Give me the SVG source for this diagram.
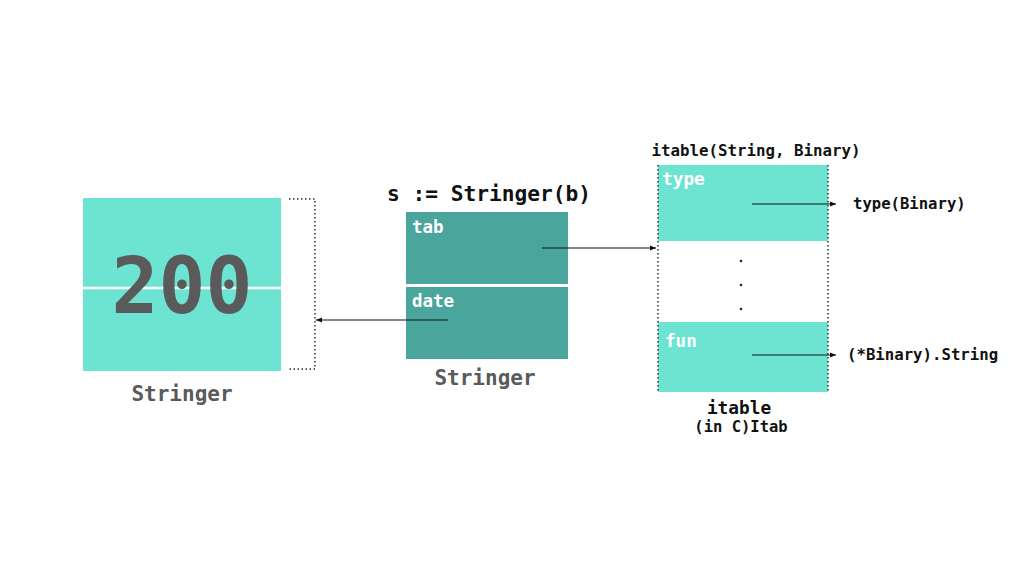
<svg xmlns="http://www.w3.org/2000/svg" width="1024" height="576" viewBox="0 0 1024 576">
<style>
.m{font-family:"DejaVu Sans Mono","Liberation Mono",monospace;font-weight:bold}
.lt{fill:#6ce4d1}
.dk{fill:#4aa69c}
.w{fill:#ffffff}
.g{fill:#5a5a5a}
.k{fill:#111111}
.dot{fill:none;stroke:#333;stroke-width:1.5;stroke-dasharray:1.5 2.5}
.ln{fill:none;stroke:#111;stroke-width:1.2}
</style>
<defs>
<marker id="ah" viewBox="0 0 10 10" refX="10" refY="5" markerWidth="6" markerHeight="6" orient="auto-start-reverse" markerUnits="userSpaceOnUse">
<path d="M0,1 L10,5 L0,9 z" fill="#111"/>
</marker>
</defs>
<rect width="1024" height="576" fill="#ffffff"/>
<g id="value">
<rect class="lt" x="83" y="198" width="198" height="173"/>
<line x1="83" y1="288" x2="281" y2="288" stroke="#fff" stroke-width="2.5"/>
<text class="m g" x="182" y="313" font-size="78" text-anchor="middle">200</text>
<text class="m g" x="182" y="401" font-size="21" text-anchor="middle">Stringer</text>
</g>
<g id="bracket">
<path class="dot" d="M289,199 H315 V369 H289"/>
</g>
<g id="stringer">
<text class="m k" x="489" y="201" font-size="21.2" text-anchor="middle">s := Stringer(b)</text>
<rect class="dk" x="406" y="212" width="162" height="72"/>
<rect class="dk" x="406" y="287" width="162" height="72"/>
<text class="m w" x="412" y="233" font-size="17.5">tab</text>
<text class="m w" x="412" y="307" font-size="17.5">date</text>
<text class="m g" x="485" y="385" font-size="21" text-anchor="middle">Stringer</text>
</g>
<g id="itable">
<text class="m k" x="756" y="156" font-size="15.8" text-anchor="middle">itable(String, Binary)</text>
<rect class="lt" x="658" y="165" width="170" height="76"/>
<rect class="lt" x="658" y="322" width="170" height="70"/>
<line class="dot" x1="658" y1="165" x2="658" y2="392"/>
<line class="dot" x1="828" y1="165" x2="828" y2="392"/>
<circle cx="741" cy="261" r="1.3" fill="#222"/>
<circle cx="741" cy="285" r="1.3" fill="#222"/>
<circle cx="741" cy="309" r="1.3" fill="#222"/>
<text class="m w" x="662" y="185" font-size="17.8">type</text>
<text class="m w" x="665" y="347" font-size="17.6">fun</text>
<text class="m k" x="739" y="414" font-size="17.8" text-anchor="middle">itable</text>
<text class="m k" x="741" y="432" font-size="15.5" text-anchor="middle">(in C)Itab</text>
</g>
<g id="typeBinary">
<text class="m k" x="853" y="209" font-size="15.6">type(Binary)</text>
</g>
<g id="binaryString">
<text class="m k" x="847" y="360" font-size="15.7">(*Binary).String</text>
</g>
<g id="connectors">
<line class="ln" x1="542" y1="248" x2="656" y2="248" marker-end="url(#ah)"/>
<line class="ln" x1="448" y1="320" x2="316" y2="320" marker-end="url(#ah)"/>
<line class="ln" x1="752" y1="204" x2="836" y2="204" marker-end="url(#ah)"/>
<line class="ln" x1="752" y1="355" x2="836" y2="355" marker-end="url(#ah)"/>
</g>
</svg>
